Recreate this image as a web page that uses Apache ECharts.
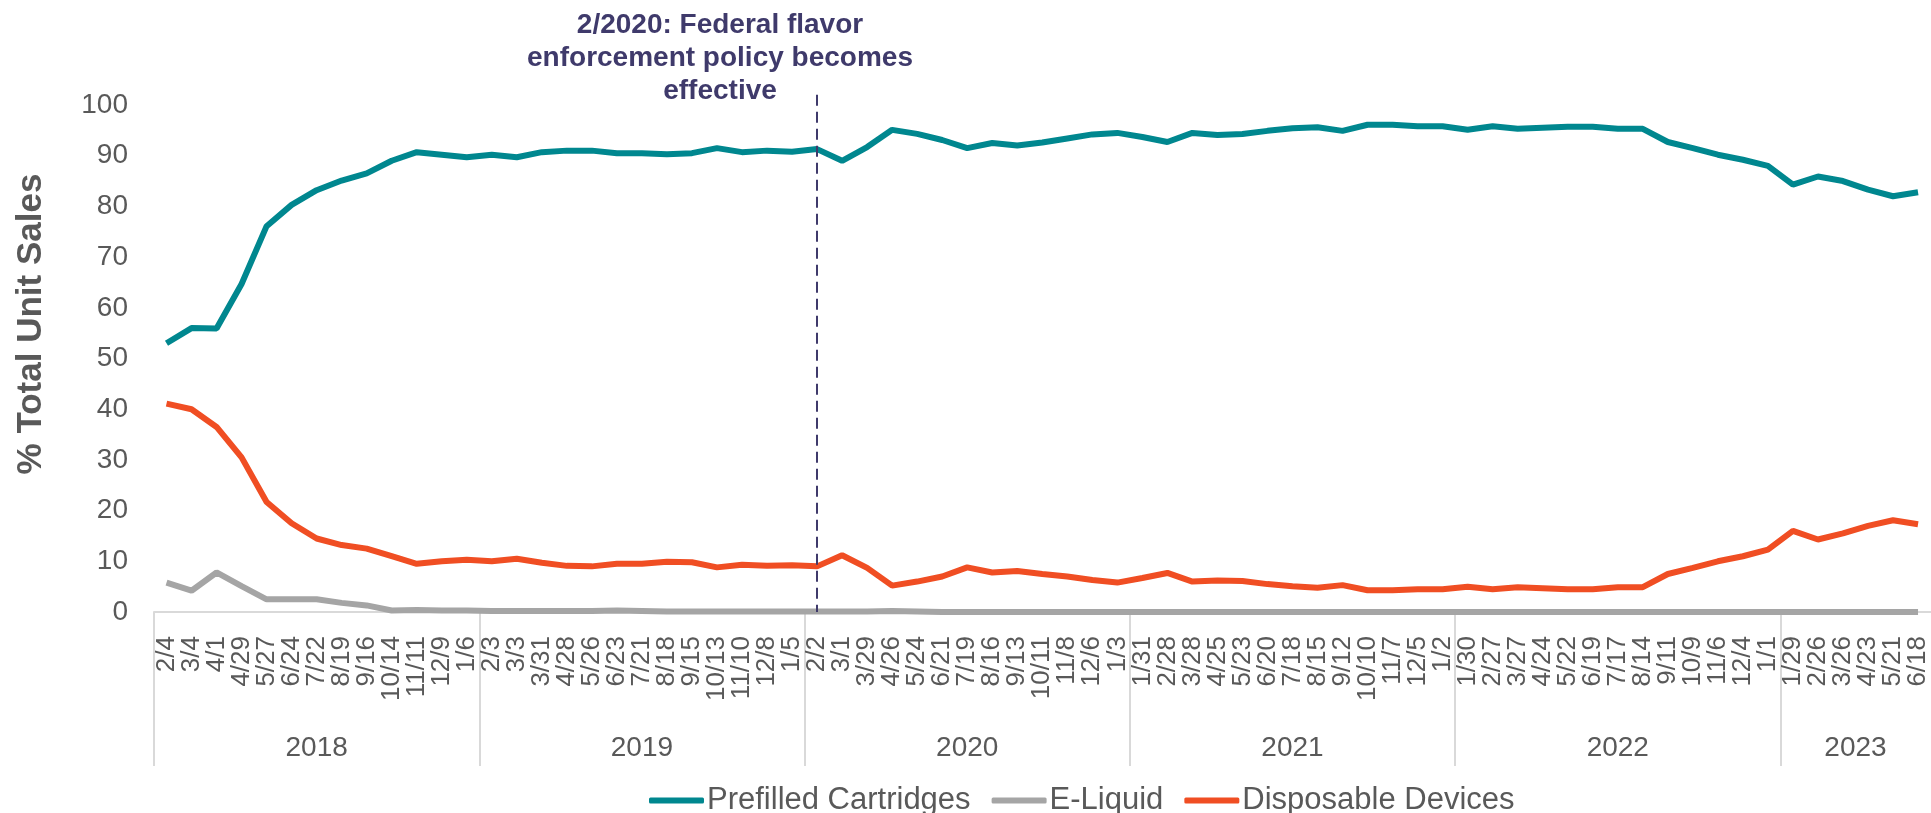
<!DOCTYPE html>
<html>
<head>
<meta charset="utf-8">
<script src="https://cdn.jsdelivr.net/npm/echarts@6/dist/echarts.min.js"></script>
<style>
  html, body { margin: 0; padding: 0; background: #fff; }
  #chart { width: 1931px; height: 813px; }
</style>
</head>
<body>
<div id="chart"></div>
<script>
// four-week periods, Feb 2018 - Jun 2023
const dates = [
  '2/4', '3/4', '4/1', '4/29', '5/27', '6/24', '7/22', '8/19', '9/16', '10/14', '11/11', '12/9', '1/6',
  '2/3', '3/3', '3/31', '4/28', '5/26', '6/23', '7/21', '8/18', '9/15', '10/13', '11/10', '12/8', '1/5',
  '2/2', '3/1', '3/29', '4/26', '5/24', '6/21', '7/19', '8/16', '9/13', '10/11', '11/8', '12/6', '1/3',
  '1/31', '2/28', '3/28', '4/25', '5/23', '6/20', '7/18', '8/15', '9/12', '10/10', '11/7', '12/5', '1/2',
  '1/30', '2/27', '3/27', '4/24', '5/22', '6/19', '7/17', '8/14', '9/11', '10/9', '11/6', '12/4', '1/1',
  '1/29', '2/26', '3/26', '4/23', '5/21', '6/18'
]
const years = ['2018', '2019', '2020', '2021', '2022', '2023']
const yearStarts = [0, 13, 26, 39, 52, 65]

const prefilled = [
  53.0, 56.0, 55.9, 64.7, 76.1, 80.3, 83.2, 85.1, 86.5, 89.0,
  90.7, 90.2, 89.7, 90.2, 89.7, 90.7, 91.0, 91.0, 90.5, 90.5,
  90.3, 90.5, 91.5, 90.7, 91.0, 90.8, 91.3, 89.0, 91.7, 95.1,
  94.3, 93.1, 91.5, 92.5, 92.0, 92.6, 93.4, 94.2, 94.5, 93.7,
  92.7, 94.5, 94.1, 94.3, 94.9, 95.4, 95.6, 94.9, 96.1, 96.1,
  95.8, 95.8, 95.1, 95.8, 95.3, 95.5, 95.7, 95.7, 95.3, 95.3,
  92.7, 91.5, 90.2, 89.2, 88.0, 84.3, 85.9, 85.0, 83.3, 82.0, 82.8
]
const eLiquid = [
  5.8, 4.2, 7.8, 5.1, 2.5, 2.5, 2.5, 1.8, 1.3, 0.3,
  0.4, 0.3, 0.3, 0.2, 0.2, 0.2, 0.2, 0.2, 0.3, 0.2,
  0.1, 0.1, 0.1, 0.1, 0.1, 0.1, 0.1, 0.1, 0.1, 0.2,
  0.1, 0.0, 0.0, 0.0, 0.0, 0.0, 0.0, 0.0, 0.0, 0.0,
  0.0, 0.0, 0.0, 0.0, 0.0, 0.0, 0.0, 0.0, 0.0, 0.0,
  0.0, 0.0, 0.0, 0.0, 0.0, 0.0, 0.0, 0.0, 0.0, 0.0,
  0.0, 0.0, 0.0, 0.0, 0.0, 0.0, 0.0, 0.0, 0.0, 0.0, 0.0
]
const disposable = [
  41.1, 40.0, 36.5, 30.5, 21.7, 17.5, 14.5, 13.2, 12.5, 11.0,
  9.5, 10.0, 10.3, 10.0, 10.5, 9.7, 9.1, 9.0, 9.5, 9.5,
  9.9, 9.8, 8.8, 9.3, 9.1, 9.2, 9.0, 11.2, 8.7, 5.2,
  6.0, 7.0, 8.8, 7.8, 8.1, 7.5, 7.0, 6.3, 5.8, 6.7,
  7.7, 6.0, 6.2, 6.1, 5.5, 5.1, 4.8, 5.3, 4.3, 4.3,
  4.5, 4.5, 5.0, 4.5, 4.9, 4.7, 4.5, 4.5, 4.9, 4.9,
  7.5, 8.7, 10.0, 11.0, 12.3, 16.0, 14.3, 15.5, 17.0, 18.1, 17.3
]
const policyIndex = 26 // 2/2/2020

// middle of each year group, in category units
const yearCenters = yearStarts.map((s, i) => (s + (yearStarts[i + 1] !== undefined ? yearStarts[i + 1] : dates.length)) / 2)

const font = '"Liberation Sans", Arial, sans-serif'
const grey = '#595959'

const myEcharts = echarts.init(document.getElementById('chart'))
myEcharts.setOption({
  animation: false,
  textStyle: { fontFamily: font },
  grid: { left: 154, top: 105, width: 1782, height: 507 },
  legend: {
    left: 644,
    top: 780,
    icon: 'roundRect',
    itemWidth: 55,
    itemHeight: 6,
    itemGap: 21,
    textStyle: { fontSize: 31, color: grey, fontFamily: font, padding: [0, 0, 0, -2] },
    data: ['Prefilled Cartridges', 'E-Liquid', 'Disposable Devices']
  },
  graphic: [
    {
      type: 'text',
      x: 720,
      y: 9,
      style: {
        text: '2/2020: Federal flavor\nenforcement policy becomes\neffective',
        fontSize: 28,
        fontWeight: 'bold',
        fontFamily: font,
        lineHeight: 33,
        fill: '#3f3a6b',
        align: 'center',
        verticalAlign: 'top'
      }
    },
    {
      type: 'text',
      x: 31,
      y: 324,
      rotation: Math.PI / 2,
      style: {
        text: '% Total Unit Sales',
        fontSize: 35,
        fontWeight: 'bold',
        fontFamily: font,
        fill: grey,
        align: 'center',
        verticalAlign: 'middle'
      }
    }
  ],
  xAxis: [
    {
      type: 'category',
      data: dates,
      boundaryGap: true,
      axisLine: { lineStyle: { color: '#d9d9d9', width: 2 } },
      axisTick: { show: false },
      axisLabel: { interval: 0, rotate: 90, margin: 24, fontSize: 26, color: grey }
    },
    {
      // year groups under the dates
      type: 'value',
      position: 'bottom',
      min: 0,
      max: dates.length,
      axisLine: { show: false },
      splitLine: { show: false },
      axisTick: {
        show: true,
        customValues: yearStarts,
        length: 154,
        lineStyle: { color: '#d9d9d9', width: 2 }
      },
      axisLabel: {
        customValues: yearCenters,
        formatter: v => years[yearCenters.indexOf(v)],
        margin: 122,
        fontSize: 28,
        color: grey
      }
    }
  ],
  yAxis: {
    type: 'value',
    min: 0,
    max: 100,
    interval: 10,
    axisLine: { show: false },
    axisTick: { show: false },
    splitLine: { show: false },
    axisLabel: { margin: 26, fontSize: 28, color: grey }
  },
  series: [
    {
      name: 'Prefilled Cartridges',
      type: 'line',
      data: prefilled,
      symbol: 'none',
      color: '#00878f',
      lineStyle: { width: 6, color: '#00878f' }
    },
    {
      name: 'E-Liquid',
      type: 'line',
      data: eLiquid,
      symbol: 'none',
      color: '#a5a5a5',
      lineStyle: { width: 6, color: '#a5a5a5' }
    },
    {
      name: 'Disposable Devices',
      type: 'line',
      data: disposable,
      symbol: 'none',
      color: '#f04e23',
      lineStyle: { width: 6, color: '#f04e23' }
    }
  ]
})

// dashed policy line: goes a little above the 100 mark, so place it with the axes' own scales
const px = myEcharts.convertToPixel({ xAxisIndex: 0 }, policyIndex)
const yTop = myEcharts.convertToPixel({ yAxisIndex: 0 }, 102)
const yBottom = myEcharts.convertToPixel({ yAxisIndex: 0 }, 0)
myEcharts.setOption({
  series: [{}, {}, {
    markLine: {
      silent: true,
      symbol: 'none',
      label: { show: false },
      lineStyle: { type: [11, 6], color: '#3f3a6b', width: 2 },
      data: [[{ x: px, y: yTop }, { x: px, y: yBottom }]]
    }
  }]
})
</script>
</body>
</html>
